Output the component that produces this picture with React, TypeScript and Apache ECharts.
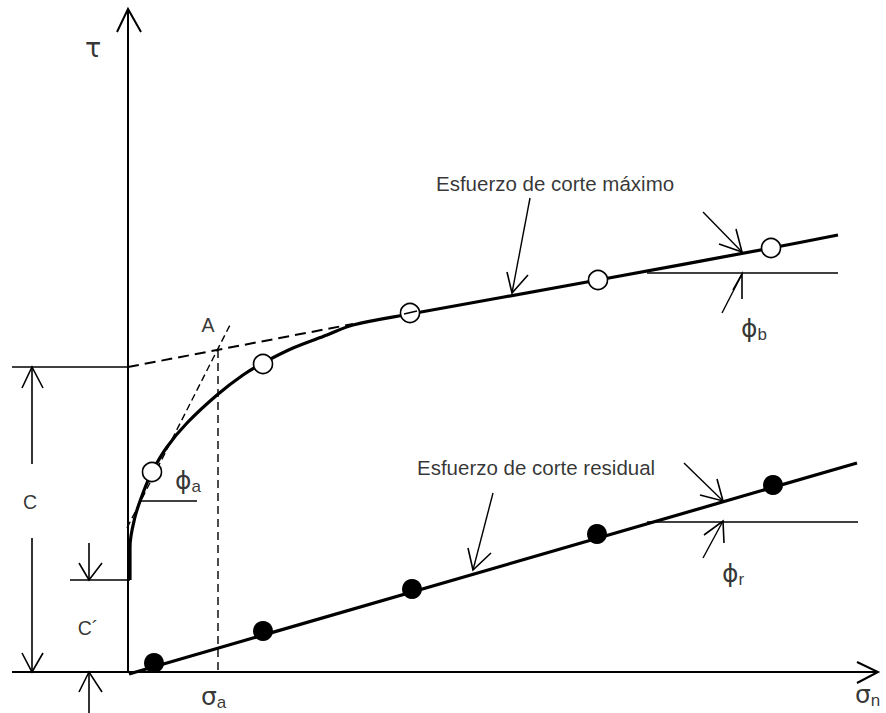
import React, { useEffect, useRef } from "react";
import * as echarts from "echarts";

// Coordinates: origin at the intersection of the axes, x to the right, y upward (diagram units)
const tauAxis = [[0, 0], [0, 663]];
const tauArrow = [[-11, 640], [0, 663], [13, 640]];
const sigmaAxis = [[-116, 0], [750, 0]];
const sigmaArrow = [[729, 10], [750, 0], [729, -11]];

// Peak (maximum) shear strength envelope
const peakEnvelope = [
  [2, 92], [2, 125], [7, 155], [15, 179], [24, 200], [39, 225], [59, 249], [89, 277],
  [115, 297], [135, 309], [165, 324], [199, 337], [225, 347], [282, 358], [470, 392],
  [643, 424], [710, 437],
];
const peakPoints = [[24, 200], [135, 308], [282, 359], [470, 392], [643, 424]];

// Residual shear strength envelope
const residualEnvelope = [[1, -2], [729, 209]];
const residualPoints = [[26, 9], [135, 41], [284, 83], [469, 138], [645, 187]];

// Construction (dashed) lines
const cohesionTangent = [[0, 305], [225, 348]];
const initialTangent = [[-1, 144], [103, 349]];
const sigmaAVertical = [[90, 322], [90, 0]];

// Dimension lines for c and c'
const cTop = [[-116, 305], [0, 305]];
const cDimUpper = [[-96, 305], [-96, 208]];
const cDimLower = [[-96, 134], [-96, 0]];
const cArrowTop = [[-106, 284], [-96, 305], [-85, 284]];
const cArrowBottom = [[-106, 19], [-96, 0], [-85, 19]];
const cpTop = [[-58, 92], [2, 92]];
const cpShaftTop = [[-39, 129], [-39, 92]];
const cpArrowTop = [[-49, 109], [-39, 92], [-26, 109]];
const cpShaftBottom = [[-39, -41], [-39, 0]];
const cpArrowBottom = [[-49, -20], [-39, 0], [-26, -20]];

// Angle markers
const phiAHoriz = [[12, 171], [69, 171]];
const phiBHoriz = [[519, 399], [710, 399]];
const phiBShaftUp = [[575, 460], [614, 420]];
const phiBHeadUp = [[591, 428], [614, 420], [608, 443]];
const phiBShaftLow = [[594, 359], [614, 398]];
const phiBHeadLow = [[605, 382], [614, 398], [614, 373]];
const phiRHoriz = [[519, 150], [730, 150]];
const phiRShaftUp = [[556, 209], [595, 171]];
const phiRHeadUp = [[572, 177], [595, 171], [589, 193]];
const phiRShaftLow = [[575, 114], [595, 151]];
const phiRHeadLow = [[576, 137], [595, 151], [596, 129]];

// Label pointer arrows
const peakPointerShaft = [[402, 474], [384, 379]];
const peakPointerHead = [[379, 400], [384, 379], [400, 397]];
const residualPointerShaft = [[365, 179], [345, 102]];
const residualPointerHead = [[340, 124], [345, 102], [363, 119]];

// Small tick inside the third peak circle
const circleTick = [[276, 358], [289, 361]];

// Text labels
const labelTexts = ["{g|τ}", "A", "C", "C´", "{g|ϕ}{s|a}", "{g|ϕ}{s|b}", "{g|ϕ}{s|r}", "{g|σ}{s|a}", "{g|σ}{s|n}", "Esfuerzo de corte máximo", "Esfuerzo de corte residual"];
const labelPositions = [[-35, 625], [80, 347], [-98, 170], [-40, 44], [47, 192], [613, 344], [594, 99], [73, -24], [727, -22], [308, 489], [289, 205]];
const labelAligns = ["center", "center", "center", "center", "left", "left", "left", "left", "left", "left", "left"];

const FONT = "'Liberation Sans', Arial, sans-serif";
const GREEK = "'DejaVu Sans', 'Liberation Sans', sans-serif";

function lineSeries(data: number[][], width: number, dash?: number[], z = 2) {
  return {
    type: "line",
    data,
    symbol: "none",
    showSymbol: false,
    silent: true,
    z,
    lineStyle: { color: "#000", width, type: dash ? dash : "solid", cap: "butt", join: "miter" },
  };
}

export default function App() {
  const ref = useRef<HTMLDivElement>(null);
  useEffect(() => {
    if (!ref.current) return;
    const chart = echarts.init(ref.current, undefined, { renderer: "svg" });
    const series: any[] = [
      lineSeries(tauAxis, 2),
      lineSeries(tauArrow, 2),
      lineSeries(sigmaAxis, 2),
      lineSeries(sigmaArrow, 2),
      lineSeries(cohesionTangent, 2, [11, 6]),
      lineSeries(initialTangent, 1.4, [7, 4]),
      lineSeries(sigmaAVertical, 1.4, [8, 5]),
      lineSeries(cTop, 1.6),
      lineSeries(cDimUpper, 1.6),
      lineSeries(cDimLower, 1.6),
      lineSeries(cArrowTop, 1.6),
      lineSeries(cArrowBottom, 1.6),
      lineSeries(cpTop, 1.6),
      lineSeries(cpShaftTop, 1.6),
      lineSeries(cpArrowTop, 1.6),
      lineSeries(cpShaftBottom, 1.6),
      lineSeries(cpArrowBottom, 1.6),
      lineSeries(phiAHoriz, 1.6),
      lineSeries(phiBHoriz, 1.6),
      lineSeries(phiBShaftUp, 1.4),
      lineSeries(phiBHeadUp, 1.6),
      lineSeries(phiBShaftLow, 1.4),
      lineSeries(phiBHeadLow, 1.6),
      lineSeries(phiRHoriz, 1.6),
      lineSeries(phiRShaftUp, 1.4),
      lineSeries(phiRHeadUp, 1.6),
      lineSeries(phiRShaftLow, 1.4),
      lineSeries(phiRHeadLow, 1.6),
      lineSeries(peakPointerShaft, 1.4),
      lineSeries(peakPointerHead, 1.6),
      lineSeries(residualPointerShaft, 1.4),
      lineSeries(residualPointerHead, 1.6),
      { ...lineSeries(peakEnvelope, 3.2, undefined, 3), smooth: 0.35 },
      lineSeries(residualEnvelope, 3.2, undefined, 3),
      {
        type: "scatter",
        data: peakPoints,
        symbol: "circle",
        symbolSize: 19,
        silent: true,
        z: 5,
        itemStyle: { color: "#fff", borderColor: "#000", borderWidth: 1.6, opacity: 1 },
      },
      {
        type: "scatter",
        data: residualPoints,
        symbol: "circle",
        symbolSize: 20,
        silent: true,
        z: 5,
        itemStyle: { color: "#000", opacity: 1 },
      },
      lineSeries(circleTick, 1.6, undefined, 6),
      {
        type: "scatter",
        symbolSize: 0,
        silent: true,
        z: 7,
        data: labelPositions.map((p, i) => ({
          value: p,
          label: {
            show: true,
            position: "inside",
            formatter: labelTexts[i],
            align: labelAligns[i],
            verticalAlign: "middle",
            color: "#000",
            fontFamily: FONT,
            fontSize: i >= 9 ? 20.5 : 19.5,
            rich: {
              g: { fontSize: i === 0 ? 27 : 25, fontFamily: GREEK, color: "#000", lineHeight: 30, verticalAlign: "middle" },
              s: { fontSize: 17, fontFamily: FONT, color: "#000", lineHeight: 30, verticalAlign: "bottom" },
            },
          },
        })),
      },
    ];
    chart.setOption({
      animation: false,
      backgroundColor: "#fff",
      grid: { left: 0, right: 0, top: 0, bottom: 0, containLabel: false },
      xAxis: { type: "value", min: -128, max: 758, show: false },
      yAxis: { type: "value", min: -41, max: 672, show: false },
      series,
    });
    return () => chart.dispose();
  }, []);
  return (
    <div
      ref={ref}
      style={{ width: 886, height: 713, position: "fixed", left: 0, top: 0, background: "#fff" }}
    />
  );
}
